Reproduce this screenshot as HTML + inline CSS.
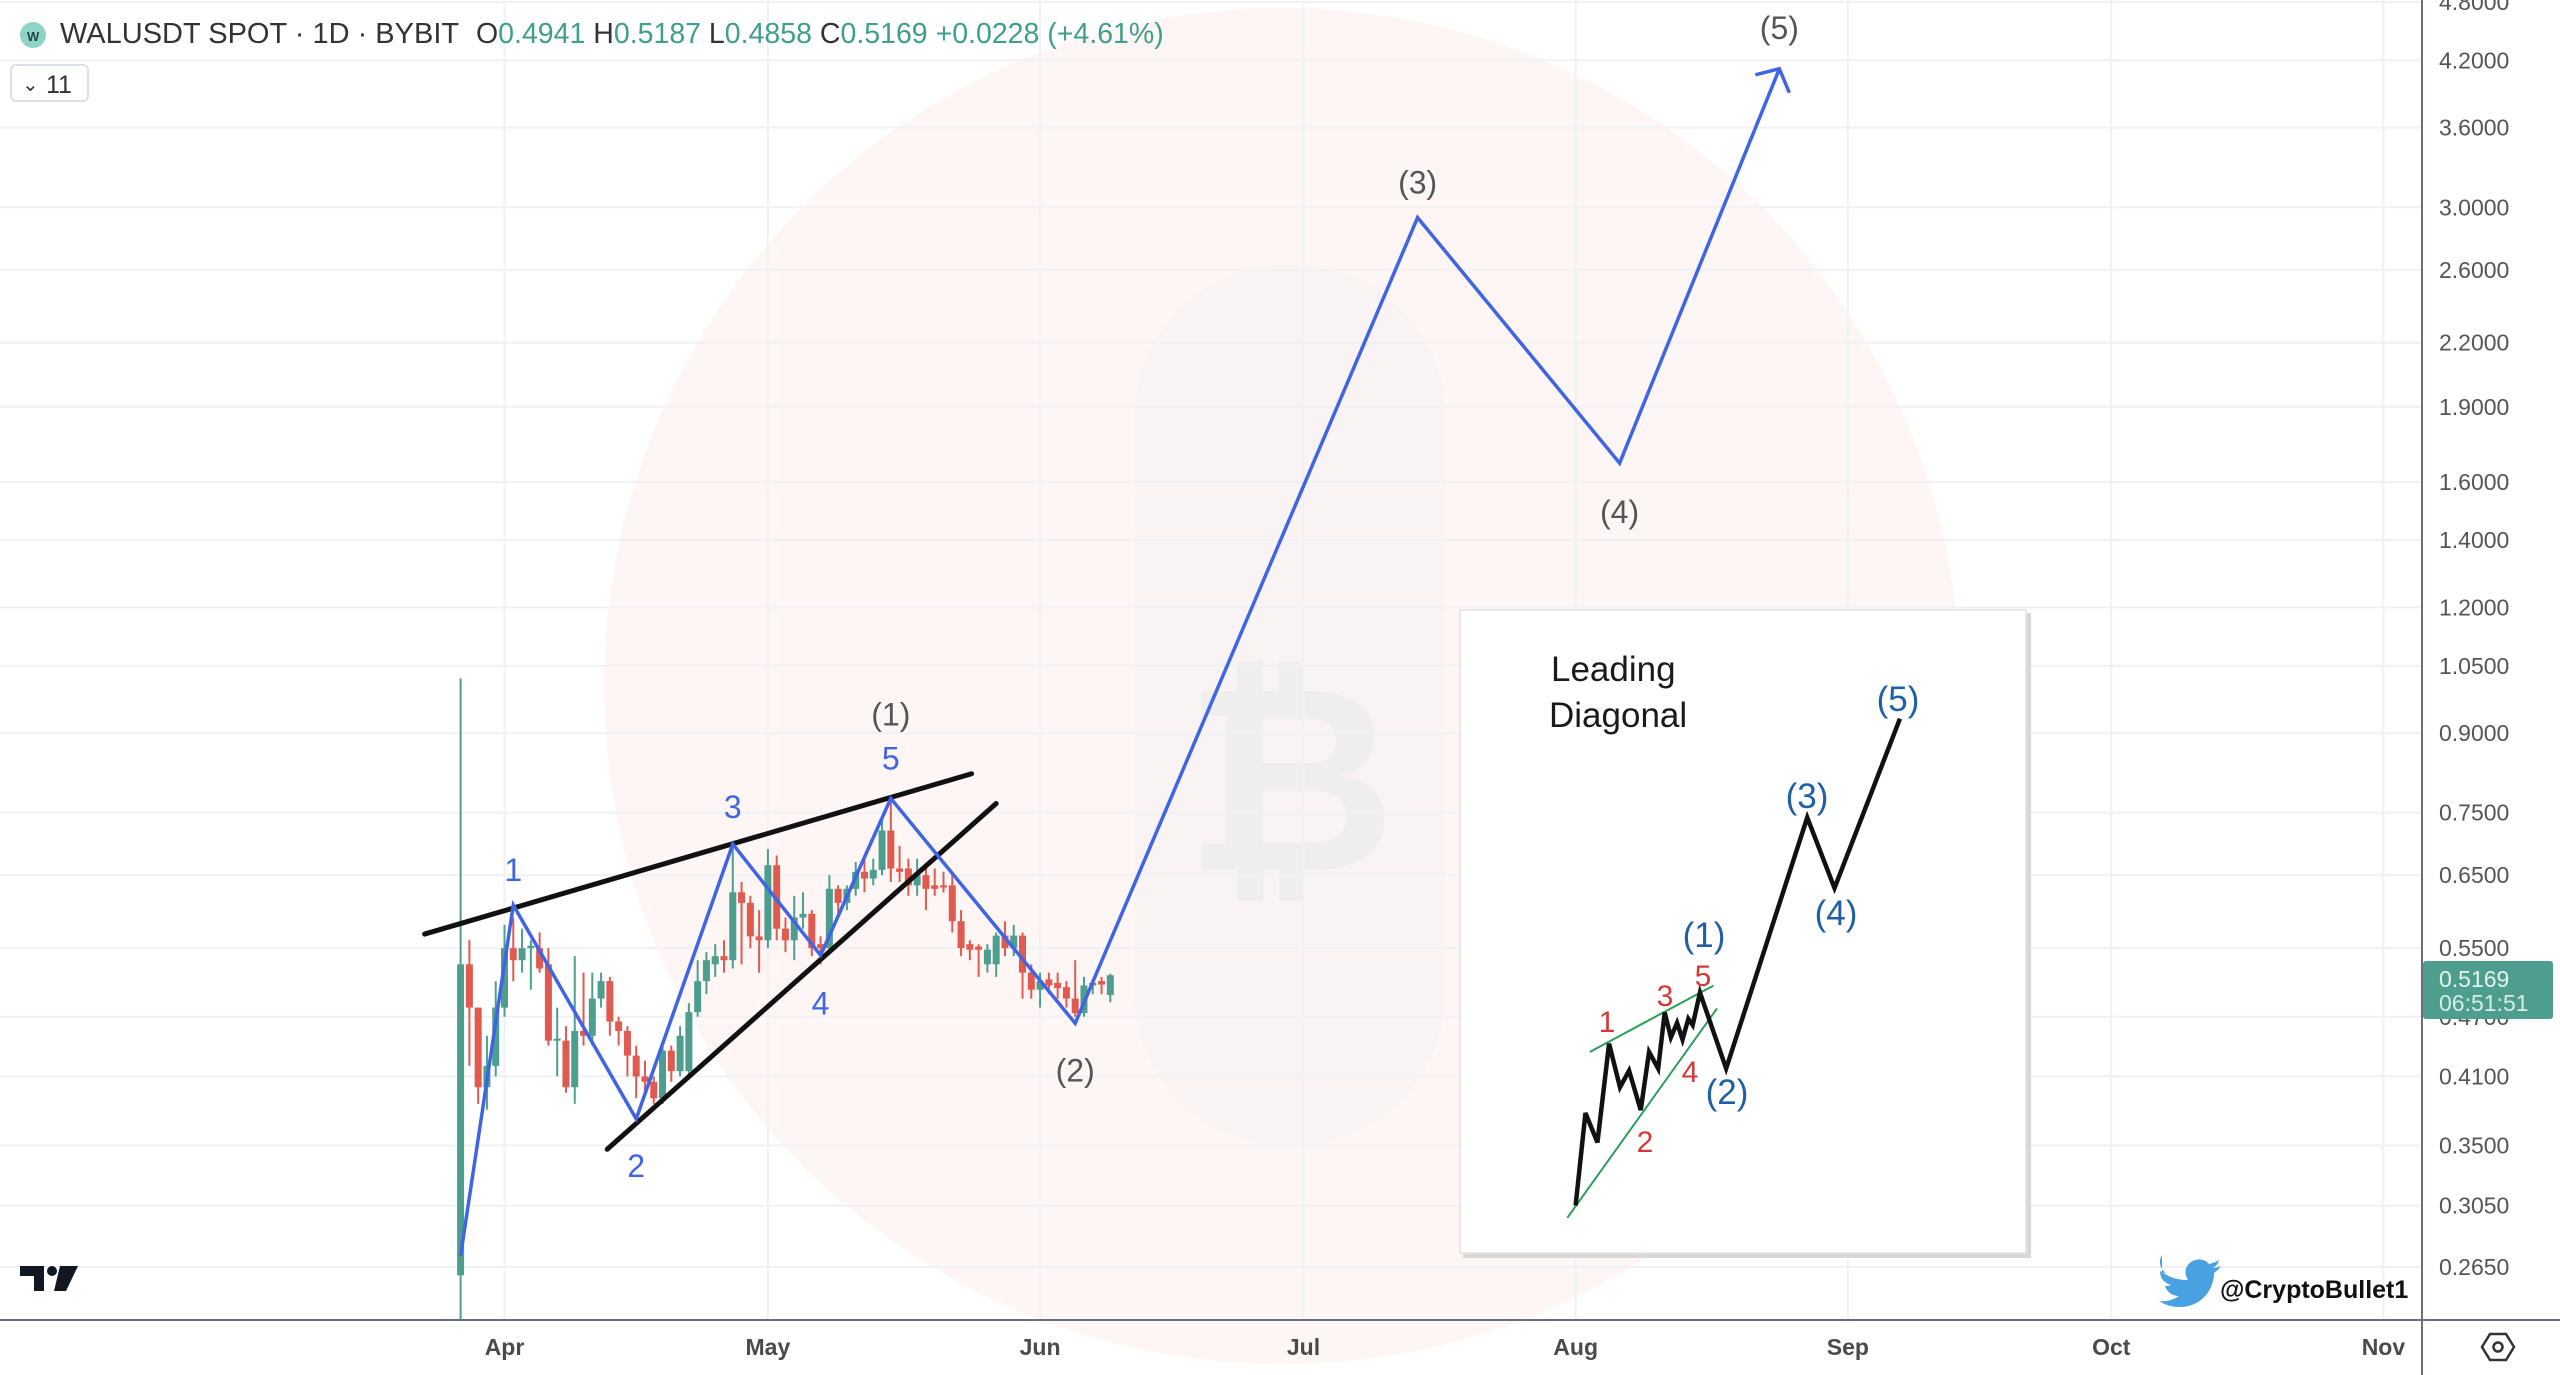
<!DOCTYPE html>
<html><head><meta charset="utf-8"><style>
html,body{margin:0;padding:0;background:#fff;}
svg{display:block;font-family:"Liberation Sans",sans-serif;}
</style></head><body>
<svg id="chart" width="2560" height="1375" viewBox="0 0 2560 1375" xmlns="http://www.w3.org/2000/svg">
  <rect width="2560" height="1375" fill="#ffffff"/>
  <g id="watermark">
    <circle cx="1282" cy="686" r="678" fill="#fdf6f4"/>
    <rect x="1135" y="265" width="310" height="880" rx="150" fill="#f1f1f1" opacity="0.35"/>
    <text x="1290" y="870" font-size="260" font-weight="bold" fill="#ececec" opacity="0.7" text-anchor="middle">₿</text>
  </g>
  <g id="grid"></g>
  <g id="candles"></g>
  <g id="drawings"></g>
  <g id="yaxis"></g>
  <g id="xaxis"></g>

  <line x1="2422" y1="0" x2="2422" y2="1375" stroke="#6b6f7a" stroke-width="2"/>
  <line x1="0" y1="1320" x2="2560" y2="1320" stroke="#6b6f7a" stroke-width="2"/>

  <g>
    <rect x="2423" y="961" width="130" height="58" rx="3" fill="#4e9e8f"/>
    <text x="2439" y="987" font-size="23" fill="#e6f3f0">0.5169</text>
    <text x="2439" y="1011" font-size="23" fill="#d6ece7">06:51:51</text>
  </g>

  <g>
    <circle cx="33" cy="35" r="13" fill="#8fd3c6"/>
    <text x="27" y="41" font-size="13" font-weight="bold" fill="#1d4a44">W</text>
    <text x="60" y="43" font-size="29" fill="#333">WALUSDT SPOT · 1D · BYBIT</text>
    <text x="476" y="43" font-size="28.5" fill="#333">O<tspan fill="#3f9e8c">0.4941</tspan> H<tspan fill="#3f9e8c">0.5187</tspan> L<tspan fill="#3f9e8c">0.4858</tspan> C<tspan fill="#3f9e8c">0.5169</tspan> <tspan fill="#3f9e8c">+0.0228 (+4.61%)</tspan></text>
  </g>
  <g>
    <rect x="11" y="65" width="77" height="36" rx="5" fill="#fff" stroke="#dde0e6" stroke-width="2"/>
    <text x="22" y="91" font-size="20" fill="#333">⌄</text>
    <text x="46" y="93" font-size="25" fill="#333">11</text>
  </g>

  <g>
    <path d="M20 1266 H44 V1291 H34 V1276 H20 Z" fill="#131722"/>
    <circle cx="52" cy="1271" r="5" fill="#131722"/>
    <path d="M60 1266 H78 L66 1291 H54 Z" fill="#131722"/>
  </g>

  <g>
    <path d="M2162 1272 c8 6 16 8 26 8 c-4-6-3-14 3-18 c6-4 14-3 18 2 c4-1 7-2 10-4 c-1 4-3 6-6 8 c3 0 5-1 8-2 c-2 3-4 5-7 7 c0 18-14 34-34 34 c-8 0-15-2-21-6 c7 1 14-1 20-5 c-7 0-12-4-14-10 c2 0 4 0 6-1 c-7-2-11-7-11-14 c2 1 4 2 6 2 c-6-4-8-12-4-18 z" fill="#4aa1e2"/>
    <text x="2220" y="1298" font-size="25" font-weight="bold" fill="#111">@CryptoBullet1</text>
  </g>

  <g>
    <polygon points="2482,1347 2490,1334 2506,1334 2514,1347 2506,1360 2490,1360" fill="none" stroke="#333" stroke-width="2.5"/>
    <circle cx="2498" cy="1347" r="4.5" fill="none" stroke="#333" stroke-width="2.5"/>
  </g>

  <g transform="translate(1460,610)">
    <rect x="3" y="3" width="568" height="645" fill="#d8d8d8"/>
    <rect x="0" y="0" width="566" height="643" fill="#fff" stroke="#e2e2e2" stroke-width="1.5"/>
    <g transform="scale(0.3636,0.415)">
      <line x1="357" y1="1065" x2="697" y2="905" stroke="#2e9e5a" stroke-width="2" vector-effect="non-scaling-stroke"/>
      <line x1="295" y1="1465" x2="707" y2="960" stroke="#2e9e5a" stroke-width="2" vector-effect="non-scaling-stroke"/>
      <polyline fill="none" stroke="#111" stroke-width="4.5" vector-effect="non-scaling-stroke" points="318,1435 345,1212 378,1283 410,1045 440,1150 465,1110 497,1205 520,1065 545,1105 563,970 580,1030 597,995 612,1035 628,985 640,1000 660,922 732,1105 955,500 1030,670 1210,262"/>
    </g>
    <text x="91" y="71" font-size="35" fill="#1a1a1a">Leading</text>
    <text x="89" y="117" font-size="35" fill="#1a1a1a">Diagonal</text>
    <g font-size="30" fill="#d23a36" text-anchor="middle">
      <text x="147" y="422">1</text>
      <text x="185" y="542">2</text>
      <text x="205" y="396">3</text>
      <text x="230" y="472">4</text>
      <text x="243" y="376">5</text>
    </g>
    <g font-size="35" fill="#1f5fa8" text-anchor="middle">
      <text x="244" y="337">(1)</text>
      <text x="267" y="494">(2)</text>
      <text x="347" y="198">(3)</text>
      <text x="376" y="315">(4)</text>
      <text x="438" y="101">(5)</text>
    </g>
  </g>
</svg>
<script>
// ---- data ----
const candleOpen  = [0.26,0.53,0.48,0.40,0.42,0.48,0.55,0.535,0.55,0.55,0.53,0.445,0.445,0.40,0.455,0.45,0.49,0.51,0.465,0.455,0.43,0.41,0.405,0.39,0.435,0.415,0.415,0.475,0.51,0.53,0.54,0.535,0.625,0.61,0.565,0.56,0.665,0.575,0.56,0.59,0.595,0.555,0.55,0.63,0.61,0.63,0.655,0.645,0.658,0.72,0.66,0.66,0.635,0.65,0.635,0.635,0.635,0.585,0.555,0.552,0.53,0.53,0.566,0.55,0.566,0.52,0.50,0.512,0.508,0.503,0.49,0.474,0.505,0.51,0.4941];
const candleHigh  = [1.02,0.56,0.48,0.45,0.51,0.58,0.59,0.575,0.56,0.57,0.55,0.48,0.46,0.54,0.52,0.52,0.52,0.515,0.47,0.46,0.44,0.425,0.41,0.44,0.44,0.46,0.485,0.535,0.545,0.555,0.56,0.70,0.64,0.62,0.60,0.69,0.68,0.59,0.62,0.625,0.60,0.565,0.65,0.635,0.635,0.67,0.675,0.675,0.74,0.77,0.695,0.675,0.675,0.66,0.66,0.655,0.655,0.60,0.56,0.555,0.555,0.57,0.585,0.58,0.57,0.53,0.52,0.52,0.52,0.51,0.535,0.515,0.512,0.515,0.5187];
const candleLow   = [0.22,0.42,0.385,0.38,0.41,0.47,0.51,0.52,0.50,0.52,0.44,0.41,0.395,0.385,0.44,0.44,0.48,0.45,0.44,0.41,0.39,0.395,0.385,0.385,0.405,0.41,0.41,0.47,0.495,0.515,0.52,0.525,0.53,0.55,0.52,0.55,0.56,0.545,0.535,0.575,0.54,0.53,0.545,0.595,0.60,0.62,0.625,0.635,0.65,0.64,0.64,0.62,0.62,0.60,0.62,0.625,0.57,0.54,0.535,0.515,0.52,0.515,0.54,0.54,0.49,0.49,0.48,0.495,0.49,0.48,0.47,0.47,0.495,0.495,0.4858];
const candleClose = [0.53,0.48,0.40,0.42,0.48,0.55,0.535,0.55,0.553,0.525,0.445,0.447,0.40,0.455,0.45,0.49,0.51,0.465,0.455,0.43,0.41,0.405,0.39,0.435,0.415,0.45,0.475,0.51,0.535,0.54,0.535,0.625,0.61,0.565,0.56,0.665,0.575,0.56,0.59,0.595,0.55,0.55,0.63,0.61,0.63,0.655,0.645,0.658,0.72,0.66,0.655,0.635,0.65,0.63,0.63,0.632,0.585,0.55,0.548,0.548,0.548,0.566,0.55,0.566,0.52,0.50,0.51,0.505,0.502,0.49,0.474,0.505,0.508,0.506,0.5169];
const firstCandleDay = -5; // days relative to Apr 1

const waveDays   = [-5, 1, 15, 26, 36, 44, 65, 104, 127, 145.2];
const wavePrices = [0.272, 0.607, 0.372, 0.698, 0.541, 0.775, 0.463, 2.93, 1.67, 4.12];
const waveLabels = ["", "1", "2", "3", "4", "5", "(2)", "(3)", "(4)", "(5)"];

const upperLineDays = [-9.1, 53.2];
const upperLinePrices = [0.568, 0.820];
const lowerLineDays = [11.7, 56.0];
const lowerLinePrices = [0.347, 0.766];

const priceTicks = [4.8, 4.2, 3.6, 3.0, 2.6, 2.2, 1.9, 1.6, 1.4, 1.2, 1.05, 0.9, 0.75, 0.65, 0.55, 0.47, 0.41, 0.35, 0.305, 0.265];
const monthLabels = ["Apr", "May", "Jun", "Jul", "Aug", "Sep", "Oct", "Nov"];
const monthDays = [0, 30, 61, 91, 122, 153, 183, 214];

// ---- scales ----
const X0 = 504.5, PX_PER_DAY = 8.78;
function xOf(d){ return X0 + d * PX_PER_DAY; }
function yOf(p){ return 60.4 + (1.435 - Math.log(p)) * 436.7; }

const NS = "http://www.w3.org/2000/svg";
function mk(tag, attrs, parent){
  const e = document.createElementNS(NS, tag);
  for (const k in attrs) e.setAttribute(k, attrs[k]);
  parent.appendChild(e);
  return e;
}

const grid = document.getElementById('grid');
priceTicks.forEach(p => {
  const l = mk('line', {x1:0, x2:2422, y1:yOf(p), y2:yOf(p), stroke:'#f0f1f4', 'stroke-width':2}, grid);
  
  
});
monthDays.forEach(d => {
  const l = mk('line', {x1:xOf(d), x2:xOf(d), y1:0, y2:1320, stroke:'#f0f1f4', 'stroke-width':2}, grid);
  
  
});

const yaxis = document.getElementById('yaxis');
priceTicks.forEach(p => {
  const t = mk('text', {x:2439, y:yOf(p), 'font-size':23, fill:'#555', 'dominant-baseline':'central'}, yaxis);
  t.textContent = p.toFixed(4);
  
  
});

const xaxis = document.getElementById('xaxis');
monthLabels.forEach((m, i) => {
  const t = mk('text', {x:xOf(monthDays[i]), y:1355, 'font-size':23, 'font-weight':'bold', fill:'#4a4a4a', 'text-anchor':'middle'}, xaxis);
  t.textContent = m;
  
  
});

const cg = document.getElementById('candles');
candleOpen.forEach((o, i) => {
  const c = candleClose[i], h = candleHigh[i], l = candleLow[i];
  const x = xOf(firstCandleDay + i);
  const col = c >= o ? '#4e9e8f' : '#e05a4f';
  const g = mk('g', {}, cg);
  
  
  mk('line', {x1:x, x2:x, y1:yOf(h), y2:Math.min(1320, yOf(l)), stroke:col, 'stroke-width':2}, g);
  const top = yOf(Math.max(o, c)), bot = yOf(Math.min(o, c));
  mk('rect', {x:x-3.5, y:top, width:7, height:Math.max(2, bot-top), fill:col}, g);
});

const dg = document.getElementById('drawings');
const up = mk('line', {x1:xOf(upperLineDays[0]), y1:yOf(upperLinePrices[0]), x2:xOf(upperLineDays[1]), y2:yOf(upperLinePrices[1]), stroke:'#111', 'stroke-width':5, 'stroke-linecap':'round'}, dg);


const lo = mk('line', {x1:xOf(lowerLineDays[0]), y1:yOf(lowerLinePrices[0]), x2:xOf(lowerLineDays[1]), y2:yOf(lowerLinePrices[1]), stroke:'#111', 'stroke-width':5, 'stroke-linecap':'round'}, dg);



const pts = waveDays.map((d, i) => xOf(d).toFixed(1) + ',' + yOf(wavePrices[i]).toFixed(1)).join(' ');
const wl = mk('polyline', {points:pts, fill:'none', stroke:'#3f64e4', 'stroke-width':3.5, 'stroke-linejoin':'miter'}, dg);



const n = waveDays.length;
const tx = xOf(waveDays[n-1]), ty = yOf(wavePrices[n-1]);
const ah = mk('polyline', {points:(tx-24)+','+(ty+6)+' '+tx+','+ty+' '+(tx+10)+','+(ty+24), fill:'none', stroke:'#3f64e4', 'stroke-width':3.5}, dg);



const labelOffsets = [0, -35, 47, -37, 48, -40, 47, -35, 49, -41];
waveLabels.forEach((lab, i) => {
  if (!lab) return;
  const big = lab.indexOf('(') === 0;
  const t = mk('text', {x:xOf(waveDays[i]), y:yOf(wavePrices[i]) + labelOffsets[i], 'font-size':32, fill: big ? '#555' : '#3f64e4', 'text-anchor':'middle', 'dominant-baseline':'central'}, dg);
  t.textContent = lab;
  
  
});
const t1 = mk('text', {x:xOf(waveDays[5]), y:yOf(wavePrices[5]) - 84, 'font-size':32, fill:'#555', 'text-anchor':'middle', 'dominant-baseline':'central'}, dg);
t1.textContent = '(1)';


</script>
</body></html>
